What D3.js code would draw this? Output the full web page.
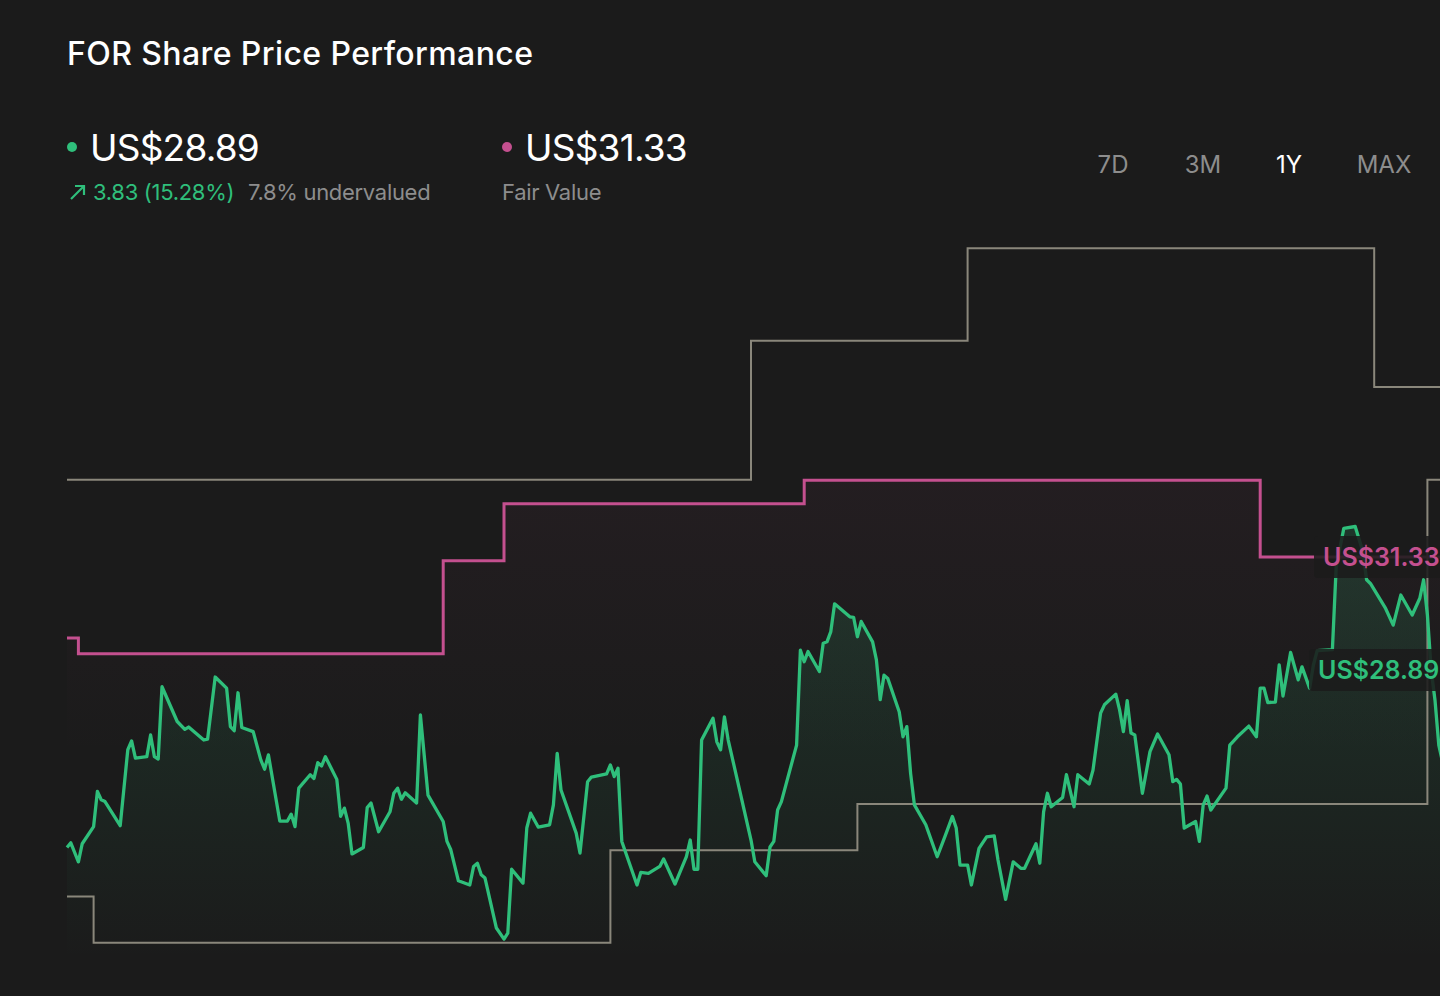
<!DOCTYPE html>
<html>
<head>
<meta charset="utf-8">
<script src="https://cdn.jsdelivr.net/npm/d3@7"></script>
<style>
  html, body { margin: 0; padding: 0; background: #1b1b1b; overflow: hidden; }
  svg { display: block; font-family: 'Inter', 'Noto Sans', sans-serif; }
</style>
</head>
<body>
<script>
// day offsets within the 1Y window and closing prices (US$)
const priceDays = [0, 1, 3, 4, 7, 8, 9, 10, 14, 16, 17, 18, 21, 22, 23, 24, 25, 29, 31, 32,
  36, 37, 39, 42, 43, 44, 45, 46, 49, 51, 52, 53, 56, 58, 59, 60, 61, 64, 65, 66,
  67, 68, 71, 72, 73, 74, 75, 78, 79, 80, 82, 85, 86, 87, 88, 89, 92, 93, 95, 99,
  100, 101, 103, 106, 107, 108, 109, 110, 113, 115, 116, 117, 120, 121, 122, 124, 127, 128, 129, 130,
  134, 135, 137, 138, 142, 143, 144, 145, 146, 150, 151, 153, 156, 157, 160, 163, 164, 165, 166, 167,
  170, 171, 172, 173, 174, 180, 181, 184, 185, 186, 187, 188, 192, 193, 194, 195, 198, 199, 200, 201,
  202, 206, 207, 208, 209, 212, 213, 214, 215, 216, 219, 220, 221, 222, 223, 226, 229, 231, 233, 234,
  235, 237, 238, 240, 242, 244, 245, 247, 249, 251, 252, 255, 256, 257, 258, 259, 262, 263, 265, 266,
  269, 270, 272, 273, 276, 277, 278, 279, 280, 281, 283, 285, 287, 290, 291, 292, 293, 294, 297, 298,
  299, 300, 301, 305, 306, 308, 311, 313, 314, 315, 316, 318, 319, 320, 322, 324, 325, 327, 328, 329,
  333, 334, 336, 339, 341, 342, 343, 347, 349, 351, 354, 356, 357, 358, 359, 360, 361, 362, 363, 364, 365];
const priceValues = [25.06, 25.16, 24.75, 25.14, 25.51, 26.27, 26.09, 26.05, 25.53, 27.17, 27.36, 26.99, 27.02, 27.49, 27.02, 26.97, 28.53, 27.78, 27.61, 27.66,
  27.38, 27.40, 28.74, 28.50, 27.67, 27.58, 28.40, 27.65, 27.56, 26.95, 26.75, 27.06, 25.63, 25.63, 25.78, 25.51, 26.34, 26.63, 26.55, 26.89,
  26.82, 27.02, 26.53, 25.73, 25.91, 25.58, 24.92, 25.06, 25.92, 26.02, 25.40, 25.83, 26.23, 26.34, 26.10, 26.24, 26.02, 27.92, 26.19, 25.62,
  25.19, 25.01, 24.34, 24.25, 24.65, 24.72, 24.47, 24.40, 23.32, 23.08, 23.21, 24.59, 24.29, 25.48, 25.80, 25.50, 25.55, 25.98, 27.09, 26.30,
  25.37, 24.94, 26.48, 26.58, 26.65, 26.84, 26.59, 26.77, 25.19, 24.25, 24.52, 24.50, 24.65, 24.81, 24.27, 24.86, 25.22, 24.59, 24.59, 27.38,
  27.85, 27.34, 27.17, 27.88, 27.38, 25.22, 24.75, 24.45, 25.07, 25.19, 25.87, 26.05, 27.27, 29.32, 29.07, 29.29, 28.86, 29.47, 29.50, 29.72,
  30.32, 30.04, 30.03, 29.61, 29.94, 29.50, 29.11, 28.25, 28.78, 28.71, 27.99, 27.45, 27.67, 26.66, 25.98, 25.55, 24.86, 25.29, 25.73, 25.48,
  24.68, 24.68, 24.25, 25.04, 25.29, 25.31, 24.79, 23.94, 24.75, 24.61, 24.61, 25.14, 24.72, 25.83, 26.23, 25.94, 26.14, 26.63, 25.94, 26.63,
  26.43, 26.73, 27.96, 28.14, 28.37, 28.03, 27.56, 28.23, 27.53, 27.49, 26.23, 27.13, 27.51, 27.06, 26.48, 26.53, 26.43, 25.48, 25.62, 25.19,
  25.98, 26.17, 25.87, 26.34, 27.27, 27.45, 27.68, 27.45, 28.50, 28.50, 28.19, 28.20, 29.00, 28.33, 29.27, 28.68, 28.96, 28.50, 29.00, 29.31,
  29.33, 31.12, 31.95, 31.99, 31.45, 30.84, 30.76, 30.22, 29.86, 30.51, 30.08, 30.44, 30.84, 30.08, 28.89, 28.24, 27.27, 26.90, 27.60, 28.30, 28.89];

// fair value estimate (step changes)
const fairDays = [0, 3, 99, 115, 194, 314, 366];
const fairValues = [29.58, 29.24, 31.25, 32.48, 32.99, 31.33, 31.33];

// analyst price target range (high / low), step changes
const highDays = [0, 180, 237, 344, 366];
const highValues = [33, 36, 38, 35, 35];
const lowDays = [0, 7, 143, 208, 358, 366];
const lowValues = [24, 23, 25, 26, 33, 33];

const periods = ['7D', '3M', '1Y', 'MAX'];
const activePeriod = '1Y';

const lastPrice = 28.89;
const fairValue = 31.33;
const change = '3.83 (15.28%)';
const valuation = '7.8% undervalued';

const green = '#2fbf7b';
const pink = '#c4508f';
const stepGray = '#8a877b';
const mutedText = '#8d8d8d';

const W = 1440, H = 996;

const svg = d3.select('body').append('svg')
  .attr('width', W)
  .attr('height', H);

svg.append('rect').attr('width', W).attr('height', H).attr('fill', '#1b1b1b');

const x = d3.scaleLinear().domain([0, 366]).range([67, 67 + 366 * 3.8]);
const y = d3.scaleLinear().domain([22.63, 38.5]).range([960, 225]);

const zip = (days, vals) => days.map((d, i) => ({ day: d, v: vals[i] }));

const prices = zip(priceDays, priceValues);
const fair = zip(fairDays, fairValues);
const high = zip(highDays, highValues);
const low = zip(lowDays, lowValues);

const defs = svg.append('defs');

const grad = (id, color, top, bottom, o1, o2) => {
  const g = defs.append('linearGradient')
    .attr('id', id)
    .attr('gradientUnits', 'userSpaceOnUse')
    .attr('x1', 0).attr('x2', 0)
    .attr('y1', top).attr('y2', bottom);
  g.append('stop').attr('offset', 0).attr('stop-color', color).attr('stop-opacity', o1);
  g.append('stop').attr('offset', 1).attr('stop-color', color).attr('stop-opacity', o2);
};
grad('priceFill', green, y(32), y(22.63), 0.16, 0.0);
grad('fairFill', pink, y(33), y(27), 0.05, 0.0);

// fills
svg.append('path')
  .datum(fair)
  .attr('d', d3.area().curve(d3.curveStepAfter)
    .x((d) => x(d.day)).y0(y(22.63)).y1((d) => y(d.v)))
  .attr('fill', 'url(#fairFill)');

svg.append('path')
  .datum(prices)
  .attr('d', d3.area()
    .x((d) => x(d.day)).y0(y(22.63)).y1((d) => y(d.v)))
  .attr('fill', 'url(#priceFill)');

const stepLine = d3.line().curve(d3.curveStepAfter)
  .x((d) => x(d.day)).y((d) => y(d.v));

[high, low].forEach((s) => {
  svg.append('path')
    .datum(s)
    .attr('d', stepLine)
    .attr('fill', 'none')
    .attr('stroke', stepGray)
    .attr('stroke-width', 2);
});

svg.append('path')
  .datum(fair)
  .attr('d', stepLine)
  .attr('fill', 'none')
  .attr('stroke', pink)
  .attr('stroke-width', 3);

svg.append('path')
  .datum(prices)
  .attr('d', d3.line().x((d) => x(d.day)).y((d) => y(d.v)))
  .attr('fill', 'none')
  .attr('stroke', green)
  .attr('stroke-width', 3.3)
  .attr('stroke-linejoin', 'round');

// end labels
const endLabel = (value, color, x0) => {
  const cy = y(value);
  svg.append('rect')
    .attr('x', x0).attr('y', cy - 21)
    .attr('width', 160).attr('height', 42)
    .attr('rx', 4)
    .attr('fill', '#1b1b1b')
    .attr('fill-opacity', 0.88);
  svg.append('text')
    .attr('x', x0 + 9).attr('y', cy + 9)
    .attr('fill', color)
    .attr('font-size', 25)
    .attr('font-weight', 600)
    .text(`US$${value.toFixed(2)}`);
};
endLabel(fairValue, pink, 1314);
endLabel(lastPrice, green, 1309);

// header
svg.append('text')
  .attr('x', 67).attr('y', 65)
  .attr('fill', '#ffffff')
  .attr('font-size', 32)
  .attr('font-weight', 500)
  .attr('letter-spacing', 0.4)
  .text('FOR Share Price Performance');

const bigValue = (xPos, value) => svg.append('text')
  .attr('x', xPos).attr('y', 161)
  .attr('fill', '#ffffff')
  .attr('font-size', 37)
  .attr('letter-spacing', -0.8)
  .text(`US$${value.toFixed(2)}`);

const smallText = (xPos, color, str) => svg.append('text')
  .attr('x', xPos).attr('y', 200)
  .attr('fill', color)
  .attr('font-size', 22)
  .attr('letter-spacing', -0.3)
  .text(str);

svg.append('circle').attr('cx', 72).attr('cy', 147).attr('r', 5).attr('fill', green);
bigValue(90, lastPrice);

svg.append('path')
  .attr('d', 'M71,199 L84,186 M75,186 L84,186 L84,195')
  .attr('fill', 'none')
  .attr('stroke', green)
  .attr('stroke-width', 2.2);
smallText(93, green, change);
smallText(248, mutedText, valuation);

svg.append('circle').attr('cx', 507).attr('cy', 147).attr('r', 5).attr('fill', pink);
bigValue(525, fairValue);
smallText(502, mutedText, 'Fair Value');

// period selector
const periodCenters = [1113, 1203, 1289, 1384];
svg.selectAll('.period')
  .data(periods)
  .enter()
  .append('text')
  .attr('class', 'period')
  .attr('x', (d, i) => periodCenters[i])
  .attr('y', 173)
  .attr('text-anchor', 'middle')
  .attr('font-size', 24)
  .attr('fill', (d) => d === activePeriod ? '#ffffff' : mutedText)
  .text((d) => d);
</script>
</body>
</html>
